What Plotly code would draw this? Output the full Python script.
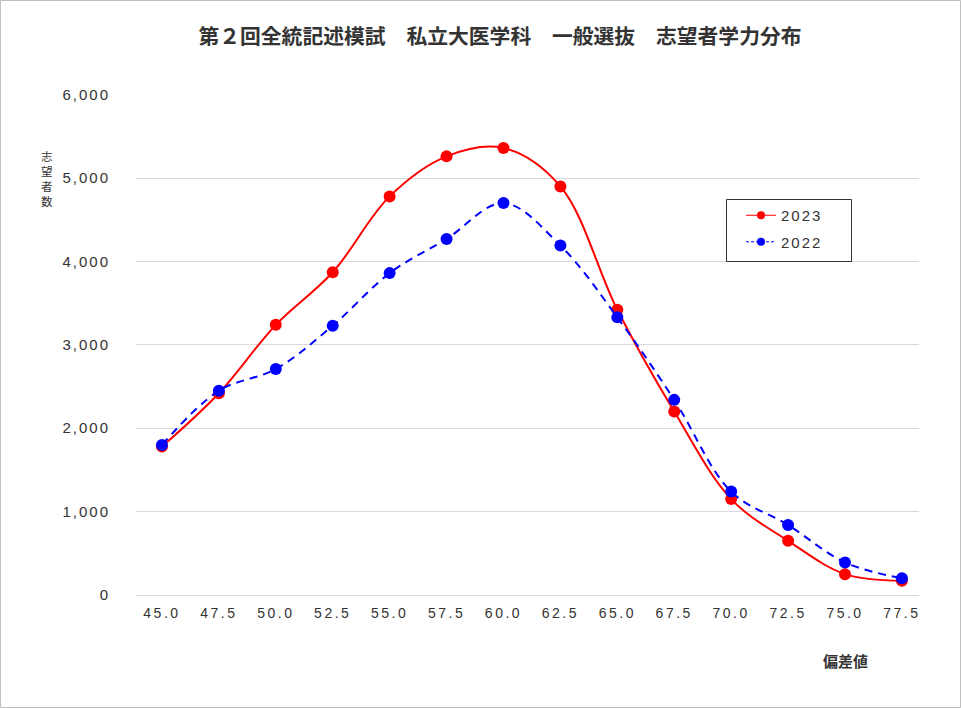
import plotly.graph_objects as go

x_vals = [45.0, 47.5, 50.0, 52.5, 55.0, 57.5, 60.0, 62.5, 65.0, 67.5, 70.0, 72.5, 75.0, 77.5]
x_labels = ["45.0", "47.5", "50.0", "52.5", "55.0", "57.5", "60.0", "62.5", "65.0", "67.5", "70.0", "72.5", "75.0", "77.5"]
y2023 = [1780, 2420, 3240, 3870, 4780, 5260, 5360, 4900, 3420, 2200, 1150, 650, 250, 170]
y2022 = [1800, 2450, 2710, 3230, 3860, 4270, 4700, 4190, 3330, 2340, 1240, 840, 390, 200]
y_ticks = [0, 1000, 2000, 3000, 4000, 5000, 6000]
series_names = ["2023", "2022"]

title_text = "第２回全統記述模試　私立大医学科　一般選抜　志望者学力分布"
cjk_font = "Noto Sans CJK JP, Noto Sans, sans-serif"
num_font = "Liberation Sans, Arial, sans-serif"
txt = "#333333"

W, H = 961, 708
ml, mr, mt, mb = 136, 42, 94, 113
pw, ph = W - ml - mr, H - mt - mb


def px_x(p):
    return (p - ml) / pw


def px_y(p):
    return (H - mb - p) / ph


fig = go.Figure()
styles = [
    dict(color="#ff0000", dash="solid"),
    dict(color="#0000ff", dash="8px,6px"),
]
for name, ys, st in zip(series_names, [y2023, y2022], styles):
    fig.add_trace(go.Scatter(
        x=x_vals, y=ys, name=name, mode="lines+markers", showlegend=False,
        line=dict(color=st["color"], width=2, dash=st["dash"], shape="spline", smoothing=1),
        marker=dict(color=st["color"], size=12),
    ))
# legend entries (thin line + small marker, as in the reference legend)
for i, (name, st) in enumerate(zip(series_names, styles)):
    fig.add_trace(go.Scatter(
        x=[None], y=[None], name=name, mode="lines+markers", legendgroup=f"g{i}",
        line=dict(color=st["color"], width=1, dash="solid" if i == 0 else "3px,2px"),
        marker=dict(color=st["color"], size=8),
    ))

fig.update_layout(
    width=W, height=H,
    margin=dict(l=ml, r=mr, t=mt, b=mb),
    paper_bgcolor="white", plot_bgcolor="white",
    font=dict(family=num_font, color=txt, size=14),
    title=dict(text="<b>" + title_text + "</b>", x=500 / W, xref="container", xanchor="center",
               y=1 - 37 / H, yref="container", yanchor="middle",
               font=dict(size=20.8, color=txt, family=cjk_font)),
    showlegend=True,
    legend=dict(x=px_x(741), y=px_y(199), xanchor="left", yanchor="top",
                borderwidth=0, bgcolor="rgba(0,0,0,0)",
                font=dict(size=15, color=txt, family=num_font),
                itemsizing="trace", tracegroupgap=4),
    xaxis=dict(range=[43.86, 78.25], tickmode="array", tickvals=x_vals, ticktext=x_labels,
               showgrid=False, zeroline=False, showline=False, ticks="",
               tickfont=dict(size=14, color=txt, family=num_font), ticklabelstandoff=8),
    yaxis=dict(range=[0, 6008], tickmode="array", tickvals=y_ticks,
               ticktext=[f"{v:,}" for v in y_ticks],
               showgrid=True, gridcolor="#d9d9d9", gridwidth=1,
               zeroline=True, zerolinecolor="#d9d9d9", zerolinewidth=1,
               showline=False, ticks="", tickfont=dict(size=15, color=txt, family=num_font),
               ticklabelstandoff=25),
)

fig.add_annotation(text="志<br>望<br>者<br>数", xref="paper", yref="paper",
                   x=px_x(47), y=px_y(178), xanchor="center", yanchor="middle",
                   showarrow=False, font=dict(size=11.5, color=txt, family=cjk_font))
fig.add_annotation(text="<b>偏差値</b>", xref="paper", yref="paper",
                   x=px_x(845), y=px_y(660), xanchor="center", yanchor="middle",
                   showarrow=False, font=dict(size=15, color=txt, family=cjk_font))

# legend frame: white fill between grid and traces, dark border on top
fig.add_shape(type="rect", xref="paper", yref="paper",
              x0=px_x(726.5), x1=px_x(851.5), y0=px_y(261.5), y1=px_y(199.5),
              line=dict(width=0), fillcolor="white", layer="between")
fig.add_shape(type="rect", xref="paper", yref="paper",
              x0=px_x(726.5), x1=px_x(851.5), y0=px_y(261.5), y1=px_y(199.5),
              line=dict(color="#333333", width=1), fillcolor="rgba(0,0,0,0)", layer="above")
# outer chart frame
fig.add_shape(type="rect", xref="paper", yref="paper",
              x0=px_x(0.5), x1=px_x(W - 0.5), y0=px_y(H - 0.5), y1=px_y(0.5),
              line=dict(color="#bfbfbf", width=1), fillcolor="rgba(0,0,0,0)", layer="below")

post = """
var gd = document.getElementById('{plot_id}');
function sp(){
  gd.querySelectorAll('.ytick text').forEach(function(t){t.style.letterSpacing='2px';});
  gd.querySelectorAll('.xtick text').forEach(function(t){t.style.letterSpacing='2.5px';});
  gd.querySelectorAll('.legendtext').forEach(function(t){t.style.letterSpacing='2px';});
}
sp();
gd.on('plotly_afterplot', sp);
"""

fig.write_html("out.html", post_script=post)
